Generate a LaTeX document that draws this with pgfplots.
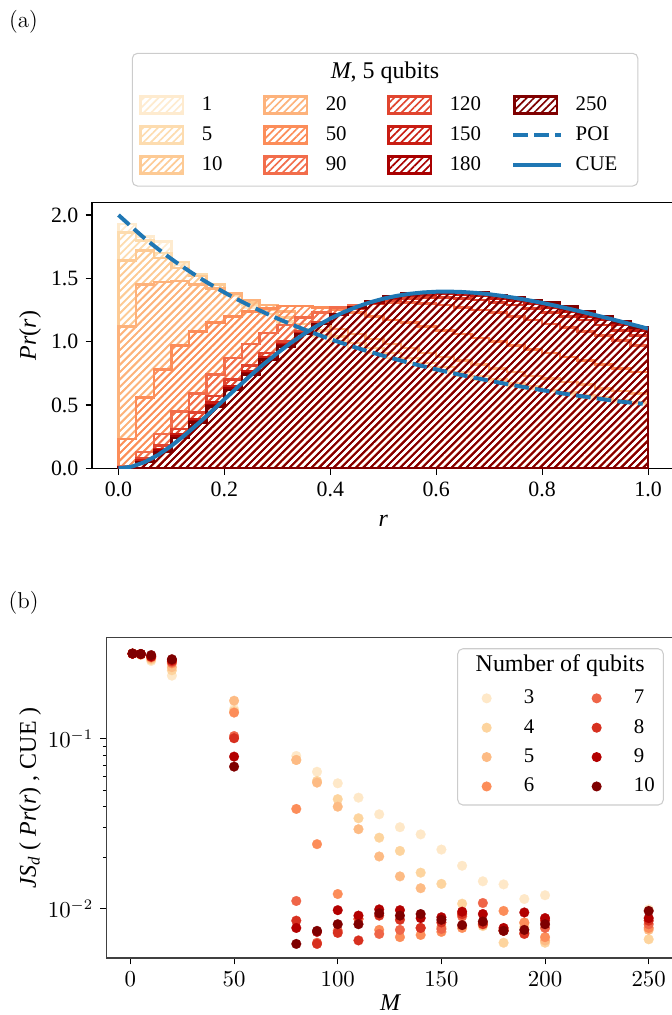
\documentclass[border=0pt]{standalone}
\usepackage{fontspec}
\setmainfont{Liberation Serif}
\usepackage{pgfplots}
\usepackage{pgfplotstable}
\pgfplotsset{compat=1.18}
\usetikzlibrary{patterns.meta}

\definecolor{h1}{RGB}{254,235,207}
\definecolor{h2}{RGB}{253,220,175}
\definecolor{h3}{RGB}{253,202,148}
\definecolor{h4}{RGB}{253,178,123}
\definecolor{h5}{RGB}{252,141,89}
\definecolor{h6}{RGB}{242,109,75}
\definecolor{h7}{RGB}{225,69,47}
\definecolor{h8}{RGB}{201,29,19}
\definecolor{h9}{RGB}{169,0,0}
\definecolor{h10}{RGB}{127,0,0}
\definecolor{q3}{HTML}{FEE8C8}
\definecolor{q4}{HTML}{FDD49E}
\definecolor{q5}{HTML}{FDBB84}
\definecolor{q6}{HTML}{FC8D59}
\definecolor{q7}{HTML}{EF6548}
\definecolor{q8}{HTML}{D7301F}
\definecolor{q9}{HTML}{B30000}
\definecolor{q10}{HTML}{7F0000}
\definecolor{mplblue}{HTML}{1F77B4}

\pgfplotsset{
  hist/.style={const plot mark left, draw=#1, line width=1.2pt, fill=none,
    pattern={Lines[angle=45,distance=2.5pt,line width=0.8pt]}, pattern color=#1, forget plot},
  hleg/.style={legend image code/.code={\draw[draw=#1,line width=1.2pt,pattern={Lines[angle=45,distance=2.5pt,line width=0.8pt]},pattern color=#1] (0.6pt,-4pt) rectangle (21pt,4pt); \path[draw=none,fill=none] (0pt,-7.2pt) rectangle (29.95pt,7.2pt);}},
  poileg/.style={legend image code/.code={\draw[mplblue,line width=1.9pt,dash pattern=on 7pt off 3pt] (0pt,0pt) -- (23pt,0pt); \path[draw=none,fill=none] (0pt,-7.2pt) rectangle (29.95pt,7.2pt);}},
  cueleg/.style={legend image code/.code={\draw[mplblue,line width=1.9pt] (0pt,0pt) -- (23pt,0pt); \path[draw=none,fill=none] (0pt,-7.2pt) rectangle (29.95pt,7.2pt);}},
  qleg/.style={legend image code/.code={\fill[#1] (0pt,0pt) circle (2.2pt); \path[draw=none,fill=none] (-5pt,-7.05pt) rectangle (17.9pt,7.05pt);}},
  qpts/.style={only marks, mark=*, mark size=2.35pt, color=#1, mark options={line width=0.1pt}, forget plot},
}

\pgfplotstableread{
r m1 m5 m10 m20 m50 m90 m120 m150 m180 m250
0       1.93 1.86 1.64 1.12 0.23 0.02 0.01 0.01 0.01 0.01
0.03333 1.83 1.80 1.72 1.45 0.56 0.13 0.08 0.06 0.05 0.05
0.06667 1.79 1.70 1.66 1.47 0.78 0.27 0.18 0.15 0.14 0.13
0.1     1.61 1.63 1.58 1.48 0.97 0.45 0.31 0.27 0.25 0.24
0.13333 1.52 1.53 1.52 1.45 1.08 0.59 0.44 0.39 0.37 0.36
0.16667 1.42 1.45 1.45 1.42 1.15 0.74 0.57 0.52 0.50 0.49
0.2     1.36 1.37 1.38 1.38 1.20 0.87 0.70 0.65 0.63 0.62
0.23333 1.27 1.29 1.31 1.33 1.24 0.98 0.81 0.77 0.75 0.74
0.26667 1.22 1.22 1.25 1.29 1.26 1.07 0.91 0.88 0.86 0.86
0.3     1.15 1.16 1.19 1.24 1.28 1.13 1.00 0.98 0.97 0.96
0.33333 1.10 1.10 1.14 1.19 1.28 1.19 1.08 1.07 1.06 1.06
0.36667 1.04 1.05 1.09 1.14 1.27 1.23 1.15 1.14 1.14 1.14
0.4     1.00 1.00 1.04 1.10 1.25 1.27 1.21 1.21 1.21 1.22
0.43333 0.95 0.95 0.99 1.06 1.23 1.29 1.26 1.27 1.27 1.27
0.46667 0.91 0.91 0.95 1.02 1.20 1.30 1.30 1.31 1.31 1.32
0.5     0.87 0.87 0.91 0.98 1.17 1.31 1.32 1.34 1.35 1.36
0.53333 0.83 0.83 0.87 0.95 1.15 1.31 1.34 1.36 1.37 1.38
0.56667 0.80 0.80 0.83 0.91 1.12 1.30 1.35 1.37 1.39 1.39
0.6     0.76 0.77 0.80 0.88 1.09 1.29 1.35 1.38 1.39 1.40
0.63333 0.74 0.73 0.76 0.85 1.06 1.27 1.34 1.37 1.39 1.39
0.66667 0.70 0.70 0.73 0.82 1.03 1.25 1.33 1.36 1.38 1.39
0.7     0.68 0.68 0.70 0.79 1.00 1.23 1.31 1.34 1.36 1.37
0.73333 0.65 0.65 0.67 0.76 0.97 1.20 1.29 1.32 1.34 1.35
0.76667 0.63 0.63 0.65 0.73 0.94 1.17 1.26 1.30 1.32 1.33
0.8     0.61 0.61 0.62 0.71 0.91 1.14 1.23 1.27 1.29 1.31
0.83333 0.58 0.59 0.60 0.68 0.88 1.11 1.20 1.24 1.26 1.28
0.86667 0.56 0.57 0.58 0.66 0.85 1.08 1.17 1.20 1.22 1.24
0.9     0.55 0.55 0.56 0.63 0.82 1.05 1.13 1.17 1.19 1.20
0.93333 0.52 0.53 0.54 0.61 0.79 1.01 1.09 1.13 1.15 1.16
0.96667 0.51 0.52 0.52 0.59 0.76 0.97 1.05 1.09 1.11 1.11
1       0.51 0.52 0.52 0.59 0.76 0.97 1.05 1.09 1.11 1.11
}\histdata

\pgfplotstableread{
M q3 q4 q5 q6 q7 q8 q9 q10
1   0.318 0.318 0.318 0.318 0.318 0.318 0.318 0.319
5   0.312 0.314 0.315 0.316 0.316 0.316 0.316 0.317
10  0.288 0.293 0.298 0.302 0.304 0.305 0.307 0.312
20  0.236 0.254 0.265 0.279 0.283 0.287 0.292 0.295
50  0.150 0.146 0.168 0.143 0.104 0.101 0.0787 0.0687
80  0.0794 0.0752 0.0752 0.0387 0.0111 0.0085 0.0077 0.0062
90  0.0641 0.0566 0.0553 0.0240 0.0063 0.0062 0.0073 0.0074
100 0.0548 0.0442 0.0399 0.0122 0.0074 0.0072 0.0098 0.0081
110 0.0451 0.0341 0.0294 0.0087 0.0087 0.0065 0.0091 0.0081
120 0.0360 0.0262 0.0203 0.0075 0.0071 0.0091 0.0099 0.0094
130 0.0302 0.0219 0.0155 0.0068 0.0075 0.0086 0.0098 0.0091
140 0.0274 0.0163 0.0132 0.0070 0.0077 0.0077 0.0088 0.0093
150 0.0223 0.0140 0.0078 0.0073 0.0076 0.0083 0.0089 0.0086
160 0.0179 0.0107 0.0093 0.0077 0.0090 0.0093 0.0096 0.0080
170 0.0145 0.0079 0.0080 0.0082 0.0108 0.0081 0.0093 0.0084
180 0.0139 0.0063 0.0075 0.0097 0.0075 0.0074 0.0077 0.0074
190 0.0114 0.0078 0.0082 0.0083 0.0072 0.0071 0.0095 0.0075
200 0.0120 0.0063 0.0065 0.0068 0.0077 0.0085 0.0088 0.0081
250 0.0099 0.0066 0.0075 0.0077 0.0081 0.0085 0.0088 0.0097
}\jsdata

\begin{document}
\begin{tikzpicture}
% panel labels
\node[font=\fontfamily{lmr}\fontsize{11}{13}\selectfont] at (11.3pt,-10.6pt) {(a)};
\node[font=\fontfamily{lmr}\fontsize{11}{13}\selectfont] at (11.3pt,-289.4pt) {(b)};
% top legend frame and title
\draw[rounded corners=2.5pt, draw=black!20, line width=0.5pt, fill=white] (63.5pt,-25.6pt) rectangle (306.2pt,-89.3pt);
\node[font=\fontsize{11.5}{13}\selectfont] at (184.8pt,-35pt) {\textit{M}, 5 qubits};

\begin{axis}[
  at={(44.16pt,-224.8pt)}, anchor=south west,
  width=279.6pt, height=127.68pt, scale only axis,
  xmin=-0.05, xmax=1.05, ymin=0, ymax=2.1,
  xtick={0,0.2,0.4,0.6,0.8,1}, xticklabels={0.0,0.2,0.4,0.6,0.8,1.0},
  ytick={0,0.5,1,1.5,2}, yticklabels={0.0,0.5,1.0,1.5,2.0},
  tick align=outside, xtick pos=bottom, ytick pos=left,
  major tick length=3pt, tick style={black, line width=0.5pt},
  axis line style={black, line width=0.6pt},
  tick label style={font=\fontsize{10.5}{12}\selectfont},
  label style={font=\fontsize{11.5}{13}\selectfont},
  xlabel={\textit{r}}, ylabel={\textit{Pr}(\textit{r})},
  xlabel style={at={(axis description cs:0.5,-0.198)}, anchor=center},
  ylabel style={at={(axis description cs:-0.1064,0.5)}, anchor=center},
  legend columns=4, legend cell align=left,
  legend style={at={(0.08133,1.4223)}, anchor=north west, draw=none, fill=none,
    inner sep=0pt, outer sep=0pt, row sep=0pt, column sep=0pt,
    nodes={inner sep=0pt, outer sep=0pt, anchor=west},
    font=\fontsize{10}{12}\selectfont},
]
\addplot[hist=h1]  table[x=r,y=m1]{\histdata} \closedcycle;
\addplot[hist=h2]  table[x=r,y=m5]{\histdata} \closedcycle;
\addplot[hist=h3]  table[x=r,y=m10]{\histdata} \closedcycle;
\addplot[hist=h4]  table[x=r,y=m20]{\histdata} \closedcycle;
\addplot[hist=h5]  table[x=r,y=m50]{\histdata} \closedcycle;
\addplot[hist=h6]  table[x=r,y=m90]{\histdata} \closedcycle;
\addplot[hist=h7]  table[x=r,y=m120]{\histdata} \closedcycle;
\addplot[hist=h8]  table[x=r,y=m150]{\histdata} \closedcycle;
\addplot[hist=h9]  table[x=r,y=m180]{\histdata} \closedcycle;
\addplot[hist=h10] table[x=r,y=m250]{\histdata} \closedcycle;
% POI
\addplot[mplblue, line width=1.9pt, dash pattern=on 7pt off 3pt, smooth, forget plot] coordinates {
(0,2) (0.05,1.81406) (0.1,1.65289) (0.15,1.51229) (0.2,1.38889) (0.25,1.28) (0.3,1.18343)
(0.35,1.09739) (0.4,1.02041) (0.45,0.95125) (0.5,0.88889) (0.55,0.83247) (0.6,0.78125)
(0.65,0.73462) (0.7,0.69204) (0.75,0.65306) (0.8,0.61728) (0.85,0.58437) (0.9,0.55402)
(0.95,0.52597) (0.99,0.51014)};
% CUE
\addplot[mplblue, line width=1.9pt, forget plot] coordinates {
(0,0) (0.025,0.01325) (0.05,0.05015) (0.075,0.10644) (0.1,0.17798) (0.125,0.26087)
(0.15,0.35156) (0.175,0.44687) (0.2,0.54401) (0.225,0.64064) (0.25,0.73480) (0.275,0.82492)
(0.3,0.90977) (0.325,0.98846) (0.35,1.06035) (0.375,1.12504) (0.4,1.18234) (0.425,1.23224)
(0.45,1.27485) (0.475,1.31042) (0.5,1.33918) (0.525,1.36155) (0.55,1.37792) (0.575,1.38873)
(0.6,1.39440) (0.625,1.39538) (0.65,1.39216) (0.675,1.38508) (0.7,1.37463) (0.725,1.36115)
(0.75,1.34505) (0.775,1.32665) (0.8,1.30627) (0.825,1.28423) (0.85,1.26074) (0.875,1.23611)
(0.9,1.21057) (0.925,1.18424) (0.95,1.15740) (0.975,1.13016) (1,1.10275)};
% legend (row-wise order of a column-filled 4x3 legend)
\addlegendimage{hleg=h1}  \addlegendentry{\makebox[29.57pt][l]{1}}
\addlegendimage{hleg=h4}  \addlegendentry{\makebox[29.57pt][l]{20}}
\addlegendimage{hleg=h7}  \addlegendentry{\makebox[29.57pt][l]{120}}
\addlegendimage{hleg=h10} \addlegendentry{\makebox[29.57pt][l]{250}}
\addlegendimage{hleg=h2}  \addlegendentry{\makebox[29.57pt][l]{5}}
\addlegendimage{hleg=h5}  \addlegendentry{\makebox[29.57pt][l]{50}}
\addlegendimage{hleg=h8}  \addlegendentry{\makebox[29.57pt][l]{150}}
\addlegendimage{poileg}   \addlegendentry{\makebox[29.57pt][l]{POI}}
\addlegendimage{hleg=h3}  \addlegendentry{\makebox[29.57pt][l]{10}}
\addlegendimage{hleg=h6}  \addlegendentry{\makebox[29.57pt][l]{90}}
\addlegendimage{hleg=h9}  \addlegendentry{\makebox[29.57pt][l]{180}}
\addlegendimage{cueleg}   \addlegendentry{\makebox[29.57pt][l]{CUE}}
\end{axis}

% bottom legend frame and title
\draw[rounded corners=2.5pt, draw=black!20, line width=0.5pt, fill=white] (219.7pt,-311.4pt) rectangle (318.4pt,-386.4pt);
\node[font=\fontsize{11.5}{13}\selectfont] at (268.9pt,-319.7pt) {Number of qubits};

\begin{axis}[
  at={(51.22pt,-459.84pt)}, anchor=south west,
  width=272.54pt, height=153.74pt, scale only axis,
  ymode=log, xmin=-11.45, xmax=262.45, ymin=0.00512, ymax=0.395,
  xtick={0,50,100,150,200,250}, ytick={0.01,0.1},
  tick align=outside, xtick pos=bottom, ytick pos=left,
  major tick length=3pt, minor tick length=1.8pt,
  tick style={black, line width=0.5pt},
  axis line style={black!75, line width=0.6pt},
  tick label style={font=\fontsize{10.5}{12}\selectfont},
  label style={font=\fontsize{11.5}{13}\selectfont},
  xlabel={\textit{M}},
  ylabel={\textit{JS}\textsubscript{\textit{d}} ( \textit{Pr}(\textit{r}) , CUE )},
  xlabel style={at={(axis description cs:0.5,-0.140)}, anchor=center},
  ylabel style={at={(axis description cs:-0.1351,0.5)}, anchor=center},
  legend columns=2, legend cell align=left,
  legend style={at={(0.6508,0.8566)}, anchor=north west, draw=none, fill=none,
    inner sep=0pt, outer sep=0pt, row sep=0pt, column sep=0pt,
    nodes={inner sep=0pt, outer sep=0pt, anchor=west},
    font=\fontsize{10}{12}\selectfont},
]
\addplot[qpts=q3]  table[x=M,y=q3]{\jsdata};
\addplot[qpts=q4]  table[x=M,y=q4]{\jsdata};
\addplot[qpts=q5]  table[x=M,y=q5]{\jsdata};
\addplot[qpts=q6]  table[x=M,y=q6]{\jsdata};
\addplot[qpts=q7]  table[x=M,y=q7]{\jsdata};
\addplot[qpts=q8]  table[x=M,y=q8]{\jsdata};
\addplot[qpts=q9]  table[x=M,y=q9]{\jsdata};
\addplot[qpts=q10] table[x=M,y=q10]{\jsdata};
\addlegendimage{qleg=q3}  \addlegendentry{\makebox[29.9pt][l]{3}}
\addlegendimage{qleg=q7}  \addlegendentry{7}
\addlegendimage{qleg=q4}  \addlegendentry{\makebox[29.9pt][l]{4}}
\addlegendimage{qleg=q8}  \addlegendentry{8}
\addlegendimage{qleg=q5}  \addlegendentry{\makebox[29.9pt][l]{5}}
\addlegendimage{qleg=q9}  \addlegendentry{9}
\addlegendimage{qleg=q6}  \addlegendentry{\makebox[29.9pt][l]{6}}
\addlegendimage{qleg=q10} \addlegendentry{10}
\end{axis}

\pgfresetboundingbox
\useasboundingbox (0pt,0pt) rectangle (322.08pt,-487.2pt);
\end{tikzpicture}
\end{document}
